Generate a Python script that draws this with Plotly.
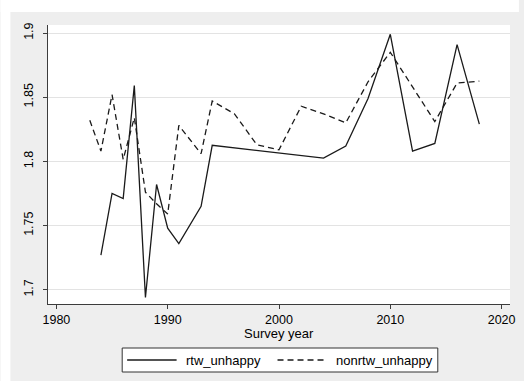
import plotly.graph_objects as go

# ---- data ----
rtw_years = [1984, 1985, 1986, 1987, 1988, 1989, 1990, 1991, 1993, 1994, 2004, 2006, 2008, 2010, 2012, 2014, 2016, 2018]
rtw_unhappy = [1.727, 1.775, 1.771, 1.859, 1.694, 1.782, 1.748, 1.736, 1.765, 1.8125, 1.8025, 1.812, 1.849, 1.899, 1.808, 1.814, 1.891, 1.829]

nonrtw_years = [1983, 1984, 1985, 1986, 1987, 1988, 1989, 1990, 1991, 1993, 1994, 1996, 1998, 2000, 2002, 2004, 2006, 2008, 2010, 2014, 2016, 2018]
nonrtw_unhappy = [1.832, 1.808, 1.852, 1.8015, 1.834, 1.776, 1.767, 1.759, 1.828, 1.806, 1.847, 1.837, 1.813, 1.809, 1.843, 1.837, 1.830, 1.862, 1.885, 1.831, 1.861, 1.8625]

x_ticks = [1980, 1990, 2000, 2010, 2020]
y_ticks = [1.7, 1.75, 1.8, 1.85, 1.9]
y_tick_labels = ["1.7", "1.75", "1.8", "1.85", "1.9"]
series_names = ["rtw_unhappy", "nonrtw_unhappy"]
x_title = "Survey year"

FONT = "Liberation Sans, Arial, sans-serif"
GRAY_BG = "#EEEEEE"
AXIS = "#3c3c3c"
DASH = "6px,4px"

fig = go.Figure()
fig.add_trace(go.Scatter(x=rtw_years, y=rtw_unhappy, mode="lines", name=series_names[0],
                         line=dict(color="#1a1a1a", width=1.3), showlegend=False, hoverinfo="skip"))
fig.add_trace(go.Scatter(x=nonrtw_years, y=nonrtw_unhappy, mode="lines", name=series_names[1],
                         line=dict(color="#1a1a1a", width=1.3, dash=DASH), showlegend=False, hoverinfo="skip"))

W, H = 524, 381
ML, MR, MT, MB = 48, 9, 25, 77
PW, PH = W - ML - MR, H - MT - MB


def px(xp):
    return (xp - ML) / PW


def py(yp):
    return (H - MB - yp) / PH


shapes = []
annotations = []
# white outer border strips (top and left) around gray graph region
shapes.append(dict(type="rect", xref="paper", yref="paper", x0=px(0), x1=px(W), y0=py(12), y1=py(0),
                   fillcolor="white", line=dict(width=0), layer="above"))
shapes.append(dict(type="rect", xref="paper", yref="paper", x0=px(0), x1=px(10), y0=py(H), y1=py(0),
                   fillcolor="white", line=dict(width=0), layer="above"))

# legend box
lx0, lx1, ly0, ly1 = 123, 442, 348, 372
shapes.append(dict(type="rect", xref="paper", yref="paper", x0=px(lx0), x1=px(lx1), y0=py(ly1), y1=py(ly0),
                   fillcolor="white", line=dict(color="#333333", width=1)))
ly = (ly0 + ly1) / 2
shapes.append(dict(type="line", xref="paper", yref="paper", x0=px(128), x1=px(178), y0=py(ly), y1=py(ly),
                   line=dict(color="#1a1a1a", width=1.3)))
shapes.append(dict(type="line", xref="paper", yref="paper", x0=px(280), x1=px(330), y0=py(ly), y1=py(ly),
                   line=dict(color="#1a1a1a", width=1.3, dash=DASH)))
annotations.append(dict(xref="paper", yref="paper", x=px(185), y=py(ly), xanchor="left", yanchor="middle",
                        text=series_names[0], showarrow=False, font=dict(family=FONT, size=13, color="black")))
annotations.append(dict(xref="paper", yref="paper", x=px(337), y=py(ly), xanchor="left", yanchor="middle",
                        text=series_names[1], showarrow=False, font=dict(family=FONT, size=13, color="black")))
# x axis title
annotations.append(dict(xref="paper", yref="paper", x=px((48 + 515) / 2), y=py(333), xanchor="center",
                        yanchor="middle", text=x_title, showarrow=False,
                        font=dict(family=FONT, size=13, color="black")))

fig.update_layout(
    width=W, height=H,
    margin=dict(l=ML, r=MR, t=MT, b=MB, pad=0),
    paper_bgcolor=GRAY_BG,
    plot_bgcolor="white",
    font=dict(family=FONT, size=12, color="black"),
    shapes=shapes,
    annotations=annotations,
    showlegend=False,
    hovermode=False,
    xaxis=dict(range=[1979.245, 2020.755], tickvals=x_ticks, ticks="outside", ticklen=4, tickwidth=1,
               tickcolor=AXIS, showline=True, linecolor=AXIS, linewidth=1, showgrid=False, zeroline=False,
               tickfont=dict(family=FONT, size=12.5, color="black"), mirror=False,
               ticklabeloverflow="allow"),
    yaxis=dict(range=[1.6889, 1.90625], tickvals=y_ticks, ticktext=y_tick_labels, ticks="outside", ticklen=4,
               tickwidth=1, tickcolor=AXIS, showline=True, linecolor=AXIS, linewidth=1, showgrid=True,
               gridcolor="#E3E3E3", gridwidth=1, zeroline=False, tickangle=-90,
               tickfont=dict(family=FONT, size=12.5, color="black"), ticklabelstandoff=5),
)

fig.write_html("out.html", config={"displayModeBar": False},
               post_script="document.body.style.margin='0';document.body.style.padding='0';")
